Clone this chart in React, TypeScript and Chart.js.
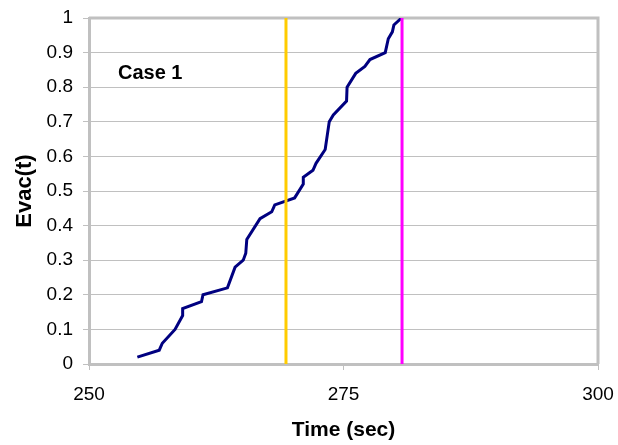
import React, { useEffect, useRef } from "react";
import { Chart, registerables } from "chart.js";

Chart.register(...registerables);

const times = [254.75, 256.9, 257.2, 258.45, 259.2, 259.2, 261.05, 261.2, 263.6, 264.35, 265.15, 265.4, 265.5, 266.8, 267.95, 268.25, 270.2, 271.05, 271.05, 272.0, 272.3, 273.2, 273.4, 273.6, 274.0, 275.3, 275.35, 276.2, 277.1, 277.6, 279.1, 279.4, 279.8, 279.95, 280.7];
const evac = [0.02, 0.04, 0.06, 0.1, 0.14, 0.16, 0.18, 0.2, 0.22, 0.28, 0.3, 0.32, 0.36, 0.42, 0.44, 0.46, 0.48, 0.52, 0.54, 0.56, 0.58, 0.62, 0.66, 0.7, 0.72, 0.76, 0.8, 0.84, 0.86, 0.88, 0.9, 0.94, 0.96, 0.98, 1.0];
const yellowTime = 269.35;
const magentaTime = 280.75;
const xTickLabels = ["250", "275", "300"];
const yTickLabels = ["0", "0.1", "0.2", "0.3", "0.4", "0.5", "0.6", "0.7", "0.8", "0.9", "1"];
const caseLabel = "Case 1";

const FONT = "'Liberation Sans', Arial, Helvetica, sans-serif";

const framePlugin = {
  id: "frame",
  beforeDatasetsDraw(chart: any) {
    const { ctx, chartArea } = chart;
    ctx.save();
    ctx.strokeStyle = "#c0c0c0";
    ctx.lineWidth = 3;
    ctx.beginPath();
    ctx.moveTo(chartArea.left, chartArea.top);
    ctx.lineTo(chartArea.right, chartArea.top);
    ctx.lineTo(chartArea.right, chartArea.bottom);
    ctx.stroke();
    ctx.restore();
  },
  afterDatasetsDraw(chart: any) {
    const { ctx, chartArea } = chart;
    ctx.save();
    ctx.fillStyle = "#000";
    ctx.font = `bold 20px ${FONT}`;
    ctx.textAlign = "left";
    ctx.textBaseline = "middle";
    ctx.fillText(caseLabel, chartArea.left + 29, chartArea.top + 55);
    ctx.restore();
  },
};

export default function App() {
  const ref = useRef<HTMLCanvasElement | null>(null);
  useEffect(() => {
    if (!ref.current) return;
    const curve = times.map((t, i) => ({ x: t, y: evac[i] }));
    const chart = new Chart(ref.current, {
      type: "scatter",
      data: {
        datasets: [
          {
            data: [{ x: yellowTime, y: 0 }, { x: yellowTime, y: 1 }],
            showLine: true,
            borderColor: "#FFCC00",
            borderWidth: 3,
            pointRadius: 0,
          },
          {
            data: [{ x: magentaTime, y: 0 }, { x: magentaTime, y: 1 }],
            showLine: true,
            borderColor: "#FF00FF",
            borderWidth: 3,
            pointRadius: 0,
          },
          {
            data: curve,
            showLine: true,
            borderColor: "#000080",
            borderWidth: 3,
            pointRadius: 0,
            tension: 0,
          },
        ],
      },
      plugins: [framePlugin],
      options: {
        animation: false,
        responsive: false,
        devicePixelRatio: 1,
        layout: { padding: { left: 0, top: 18, right: 20, bottom: 0 } },
        plugins: { legend: { display: false }, tooltip: { enabled: false } },
        scales: {
          x: {
            type: "linear",
            min: 250,
            max: 300,
            afterBuildTicks(scale: any) {
              scale.ticks = xTickLabels.map((v) => ({ value: Number(v) }));
            },
            afterFit(scale: any) {
              scale.height = 81;
              scale.paddingLeft = 0;
              scale.paddingRight = 0;
            },
            ticks: {
              color: "#000",
              font: { family: FONT, size: 19 },
              padding: 13,
              maxRotation: 0,
              callback: (v: any) => String(v),
            },
            grid: { drawOnChartArea: false, drawTicks: true, tickLength: 6, color: "#c0c0c0", lineWidth: 1 },
            border: { color: "#c0c0c0", width: 3 },
            title: {
              display: true,
              text: "Time (sec)",
              color: "#000",
              font: { family: FONT, size: 21, weight: "bold" },
              padding: { top: 0, bottom: 2 },
            },
          },
          y: {
            min: 0,
            max: 1,
            afterBuildTicks(scale: any) {
              scale.ticks = yTickLabels.map((v) => ({ value: Number(v) }));
            },
            afterFit(scale: any) {
              scale.width = 89;
              scale.paddingTop = 0;
              scale.paddingBottom = 0;
            },
            ticks: {
              color: "#000",
              font: { family: FONT, size: 19 },
              padding: 10,
              callback: (v: any) => String(v),
            },
            grid: { drawTicks: true, tickLength: 6, color: "#c0c0c0", lineWidth: 1 },
            border: { color: "#c0c0c0", width: 3 },
            title: {
              display: true,
              text: "Evac(t)",
              color: "#000",
              font: { family: FONT, size: 22, weight: "bold" },
              padding: { top: 12, bottom: 0 },
            },
          },
        },
      },
    });
    return () => chart.destroy();
  }, []);
  return (
    <div style={{ position: "absolute", left: 0, top: 0, width: 618, height: 445, background: "#fff" }}>
      <canvas ref={ref} width={618} height={445} style={{ width: 618, height: 445, display: "block" }} />
    </div>
  );
}
